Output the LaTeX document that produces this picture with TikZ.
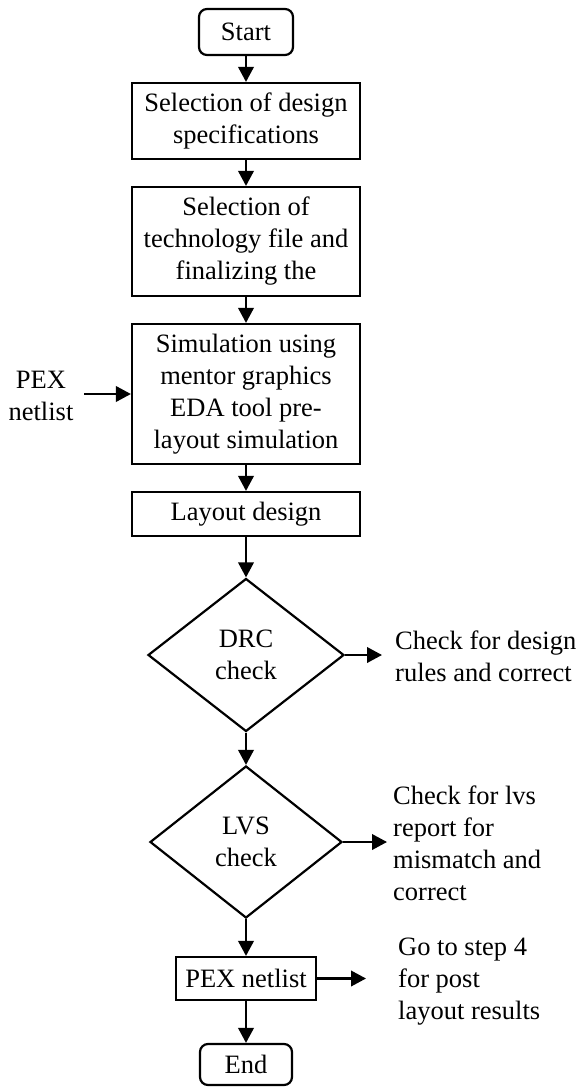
\documentclass[tikz,border=0pt]{standalone}
\usepackage{fontspec}
\setmainfont{Liberation Serif}
\usetikzlibrary{arrows.meta,shapes.geometric}
\begin{document}
\begin{tikzpicture}[x=1pt,y=-1pt,
  every node/.style={font=\fontsize{26.5}{32}\selectfont, inner sep=0pt, align=center},
  procbox/.style={draw, line width=2.2pt, minimum width=228pt},
  termbox/.style={draw, line width=2.2pt, rounded corners=8pt, minimum width=94pt},
  decbox/.style={draw, line width=2.2pt, diamond, aspect=1.28},
  arr/.style={line width=2.2pt, -{Triangle[length=15pt,width=15.5pt]}},
  note/.style={align=left, anchor=west}
]
\useasboundingbox (0,0) rectangle (576,1087);
\node[termbox, minimum height=46pt] (start) at (246,32) {Start};
\node[procbox, minimum height=76pt] (spec) at (246,121) {Selection of design\\specifications};
\node[procbox, minimum height=109pt] (tech) at (246,241.5) {Selection of\\technology file and\\finalizing the};
\node[procbox, minimum height=140pt] (sim) at (246,394) {Simulation using\\mentor graphics\\EDA tool pre-\\layout simulation};
\node[procbox, minimum height=44pt] (lay) at (246,514) {Layout design};
\node[decbox, minimum width=196pt, minimum height=153pt] (drc) at (246,655) {DRC\\check};
\node[decbox, minimum width=192pt, minimum height=152pt] (lvs) at (246,842) {LVS\\check};
\node[procbox, minimum width=140pt, minimum height=43pt] (pex) at (246,978.5) {PEX netlist};
\node[termbox, minimum width=92pt, minimum height=41pt] (end) at (246,1064.5) {End};

\node (pexin) at (41,396) {PEX\\netlist};
\coordinate (pexinend) at (84,394);
\node[note] (drcnote) at (395,656) {Check for design\\rules and correct};
\node[note] (lvsnote) at (393,843) {Check for lvs\\report for\\mismatch and\\correct};
\node[note] (gonote) at (398,982) {Go to step 4\\for post\\layout results};
\coordinate (drcout) at (382,655);
\coordinate (lvsout) at (387,842);
\coordinate (pexout) at (366,978.5);

\draw[arr] (start) -- (spec);
\draw[arr] (spec) -- (tech);
\draw[arr] (tech) -- (sim);
\draw[arr] (sim) -- (lay);
\draw[arr] (lay) -- (drc);
\draw[arr] (drc) -- (lvs);
\draw[arr] (lvs) -- (pex);
\draw[arr] (pex) -- (end);
\draw[arr] (pexinend) -- (sim.west |- pexinend);
\draw[arr] (drc.east) -- (drcout);
\draw[arr] (lvs.east) -- (lvsout);
\draw[arr] (pex.east) -- (pexout);
\end{tikzpicture}
\end{document}
